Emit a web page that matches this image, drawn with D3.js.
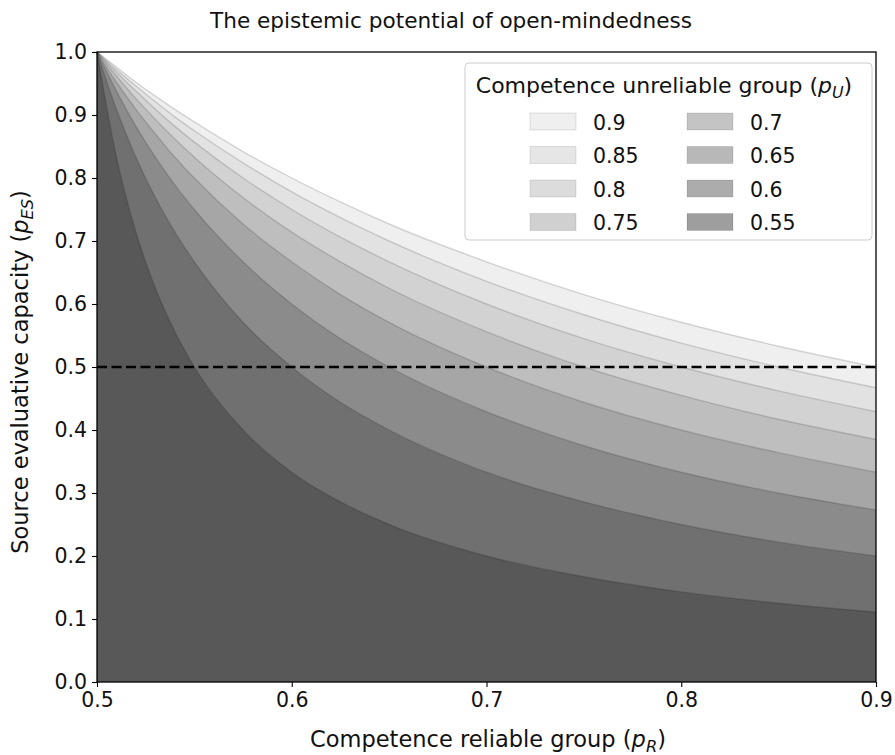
<!DOCTYPE html>
<html>
<head>
<meta charset="utf-8">
<script src="https://cdn.jsdelivr.net/npm/d3@7"></script>
<style>
  body { margin: 0; background: #fff; }
  svg { display: block; font-family: "DejaVu Sans", sans-serif; }
</style>
</head>
<body>
<div id="chart"></div>
<script>
// pR values where the curves were read
const pR = [0.5, 0.51, 0.52, 0.53, 0.54, 0.55, 0.575, 0.6, 0.625, 0.65, 0.7, 0.75, 0.8, 0.85, 0.9];

// pU groups, lightest (drawn first) to darkest
const groups = ['0.9', '0.85', '0.8', '0.75', '0.7', '0.65', '0.6', '0.55'];

// pES
const pES_090 = [1, 0.976, 0.952, 0.93, 0.909, 0.889, 0.842, 0.8, 0.762, 0.727, 0.667, 0.615, 0.571, 0.533, 0.5];
const pES_085 = [1, 0.972, 0.946, 0.921, 0.897, 0.875, 0.824, 0.778, 0.737, 0.7, 0.636, 0.583, 0.538, 0.5, 0.467];
const pES_080 = [1, 0.968, 0.938, 0.909, 0.882, 0.857, 0.8, 0.75, 0.706, 0.667, 0.6, 0.545, 0.5, 0.462, 0.429];
const pES_075 = [1, 0.962, 0.926, 0.893, 0.862, 0.833, 0.769, 0.714, 0.667, 0.625, 0.556, 0.5, 0.455, 0.417, 0.385];
const pES_070 = [1, 0.952, 0.909, 0.87, 0.833, 0.8, 0.727, 0.667, 0.615, 0.571, 0.5, 0.444, 0.4, 0.364, 0.333];
const pES_065 = [1, 0.938, 0.882, 0.833, 0.789, 0.75, 0.667, 0.6, 0.545, 0.5, 0.429, 0.375, 0.333, 0.3, 0.273];
const pES_060 = [1, 0.909, 0.833, 0.769, 0.714, 0.667, 0.571, 0.5, 0.444, 0.4, 0.333, 0.286, 0.25, 0.222, 0.2];
const pES_055 = [1, 0.833, 0.714, 0.625, 0.556, 0.5, 0.4, 0.333, 0.286, 0.25, 0.2, 0.167, 0.143, 0.125, 0.111];
const series = [pES_090, pES_085, pES_080, pES_075, pES_070, pES_065, pES_060, pES_055];

// colour of the band just below each curve, and of its legend patch
const bandColors = ['#efefef', '#e2e2e2', '#d2d2d2', '#bebebe', '#a6a6a6', '#8b8b8b', '#707070', '#585858'];
const patchColors = ['#efefef', '#e6e6e6', '#dcdcdc', '#d0d0d0', '#c4c4c4', '#b8b8b8', '#acacac', '#9e9e9e'];

const xTicks = [0.5, 0.6, 0.7, 0.8, 0.9];
const yTicks = [0, 0.1, 0.2, 0.3, 0.4, 0.5, 0.6, 0.7, 0.8, 0.9, 1.0];
const threshold = 0.5;

const TITLE_FS = 21.6;
const LABEL_FS = 22.5;
const LEG_TITLE_FS = 22;
const TICK_FS = 20.5;

const W = 895, H = 755;
const margin = { top: 52, right: 19, bottom: 73, left: 97 };
const w = W - margin.left - margin.right;
const h = H - margin.top - margin.bottom;

const svg = d3.select('#chart').append('svg')
  .attr('width', W).attr('height', H);

const g = svg.append('g')
  .attr('transform', `translate(${margin.left},${margin.top})`);

const x = d3.scaleLinear().domain([0.5, 0.9]).range([0, w]);
const y = d3.scaleLinear().domain([0, 1]).range([h, 0]);

const area = d3.area()
  .x((d, i) => x(pR[i]))
  .y0(y(0))
  .y1(d => y(d))
  .curve(d3.curveMonotoneX);

const line = d3.line()
  .x((d, i) => x(pR[i]))
  .y(d => y(d))
  .curve(d3.curveMonotoneX);

// ── Filled areas (light on the bottom of the stack, dark on top) ──
g.selectAll('.band')
  .data(series)
  .join('path')
  .attr('class', 'band')
  .attr('d', area)
  .attr('fill', (d, i) => bandColors[i]);

g.selectAll('.edge')
  .data(series)
  .join('path')
  .attr('class', 'edge')
  .attr('d', line)
  .attr('fill', 'none')
  .attr('stroke', '#000')
  .attr('stroke-opacity', 0.15)
  .attr('stroke-width', 1.4);

// ── Threshold ──
g.append('line')
  .attr('x1', x(0.5)).attr('x2', x(0.9))
  .attr('y1', y(threshold)).attr('y2', y(threshold))
  .attr('stroke', '#000')
  .attr('stroke-width', 2.4)
  .attr('stroke-dasharray', '10,4.5');

// ── Axes ──
const xAxis = g.append('g')
  .attr('transform', `translate(0,${h})`)
  .call(d3.axisBottom(x).tickValues(xTicks).tickFormat(d3.format('.1f')).tickSize(5).tickPadding(5));
const yAxis = g.append('g')
  .call(d3.axisLeft(y).tickValues(yTicks).tickFormat(d3.format('.1f')).tickSize(5).tickPadding(5));

[xAxis, yAxis].forEach(a => {
  a.select('.domain').remove();
  a.selectAll('line').attr('stroke', '#000').attr('stroke-width', 1.1);
  a.selectAll('text')
    .attr('fill', '#111')
    .attr('font-size', TICK_FS)
    .attr('font-family', '"DejaVu Sans", sans-serif');
});

g.append('rect')
  .attr('x', 0).attr('y', 0).attr('width', w).attr('height', h)
  .attr('fill', 'none').attr('stroke', '#000').attr('stroke-width', 1.3);

// ── Titles ──
svg.append('text')
  .attr('x', 451).attr('y', 28)
  .attr('text-anchor', 'middle')
  .attr('font-size', TITLE_FS).attr('fill', '#111')
  .text('The epistemic potential of open-mindedness');

function mathLabel(sel, before, sub, fs) {
  sel.append('tspan').text(before + ' (');
  sel.append('tspan').attr('font-style', 'italic').text('p');
  sel.append('tspan').attr('font-style', 'italic').attr('font-size', fs * 0.72).attr('dy', 5).text(sub);
  sel.append('tspan').attr('dy', -5).text(')');
}

svg.append('text')
  .attr('x', 488).attr('y', 747)
  .attr('text-anchor', 'middle')
  .attr('font-size', LABEL_FS).attr('fill', '#111')
  .call(mathLabel, 'Competence reliable group', 'R', LABEL_FS);

svg.append('text')
  .attr('transform', 'translate(28,372) rotate(-90)')
  .attr('text-anchor', 'middle')
  .attr('font-size', LABEL_FS).attr('fill', '#111')
  .call(mathLabel, 'Source evaluative capacity', 'ES', LABEL_FS);

// ── Legend ──
const lg = svg.append('g').attr('transform', 'translate(465,63)');
lg.append('rect')
  .attr('width', 407).attr('height', 177).attr('rx', 4)
  .attr('fill', '#fff').attr('fill-opacity', 0.85)
  .attr('stroke', '#cccccc').attr('stroke-width', 1);

lg.append('text')
  .attr('x', 199).attr('y', 30)
  .attr('text-anchor', 'middle')
  .attr('font-size', LEG_TITLE_FS).attr('fill', '#111')
  .call(mathLabel, 'Competence unreliable group', 'U', LEG_TITLE_FS);

const item = lg.selectAll('.item')
  .data(groups)
  .join('g')
  .attr('class', 'item')
  .attr('transform', (d, i) => `translate(${i < 4 ? 65 : 222},${50 + (i % 4) * 33.5})`);

item.append('rect')
  .attr('width', 46).attr('height', 17)
  .attr('fill', (d, i) => patchColors[i])
  .attr('stroke', '#000').attr('stroke-opacity', 0.1);

item.append('text')
  .attr('x', 63).attr('y', 16.5)
  .attr('font-size', TICK_FS).attr('fill', '#111')
  .text(d => d);
</script>
</body>
</html>
